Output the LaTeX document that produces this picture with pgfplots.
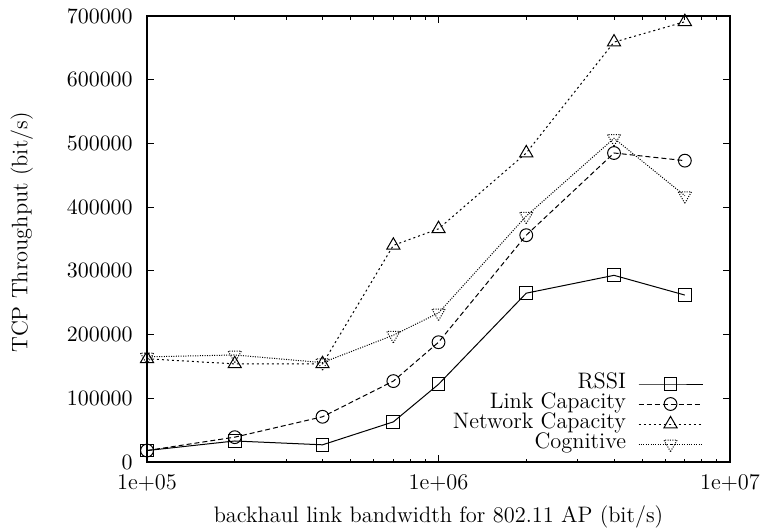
\documentclass[border=0pt]{standalone}
\usepackage{pgfplots}
\pgfplotsset{compat=1.18}
\begin{document}
\begin{tikzpicture}[font=\fontsize{11.2}{13}\selectfont]
\path (-73.5pt,-34.5pt) rectangle (308pt,231pt);
\begin{axis}[
  at={(0pt,0pt)}, anchor=south west,
  scale only axis, width=291.5pt, height=223pt,
  xmode=log, xmin=1e5, xmax=1e7,
  ymin=0, ymax=700000,
  xtick={1e5,1e6,1e7}, xticklabels={1e+05,1e+06,1e+07},
  ytick={0,100000,...,700000},
  scaled y ticks=false,
  yticklabel style={/pgf/number format/fixed,/pgf/number format/1000 sep={}, anchor=east, inner sep=0pt, xshift=-7pt},
  xticklabel style={anchor=base, inner sep=0pt, yshift=-13.5pt},
  tick align=inside, tick pos=both,
  major tick length=3.5pt, minor tick length=1.75pt,
  axis line style={line width=0.8pt},
  every tick/.style={line width=0.5pt, black},
  xlabel={backhaul link bandwidth for 802.11 AP (bit/s)},
  xlabel style={at={(axis description cs:0.5,0)}, anchor=base, inner sep=0pt, yshift=-30pt},
  ylabel={TCP Throughput (bit/s)},
  ylabel style={at={(axis description cs:-0.205,0.5146)}, anchor=base, inner sep=0pt, rotate=0},
  every axis plot/.append style={line width=0.5pt, black, mark options={solid, fill=none}},
  legend plot pos=right,
  legend cell align=right,
  legend style={draw=none, fill=none, inner sep=0pt, outer sep=0pt,
    at={(1,0)}, anchor=south east, xshift=-13.5pt, yshift=4pt,
    row sep=0pt, column sep=6pt,
    nodes={inner sep=0pt, text height=7pt, text depth=3pt}},
  legend image code/.code={\draw[#1,mark repeat=2,mark phase=2] plot coordinates {(0pt,0pt)(16pt,0pt)(32pt,0pt)};},
]
\addplot[solid, mark=square, mark size=3.2pt] coordinates {
(1e5,18000) (2e5,33000) (4e5,27000) (7e5,63000) (1e6,122000) (2e6,265000) (4e6,293000) (7e6,262000)};
\addlegendentry{RSSI}
\addplot[dash pattern=on 2.5pt off 1.5pt, mark=o, mark size=3.2pt] coordinates {
(1e5,18000) (2e5,39000) (4e5,71000) (7e5,127000) (1e6,188000) (2e6,356000) (4e6,485000) (7e6,473000)};
\addlegendentry{Link Capacity}
\addplot[dash pattern=on 1pt off 1.5pt, mark=triangle, mark size=3.8pt] coordinates {
(1e5,162000) (2e5,154000) (4e5,154000) (7e5,340000) (1e6,366000) (2e6,485000) (4e6,659000) (7e6,691000)};
\addlegendentry{Network Capacity}
\addplot[dash pattern=on 0.5pt off 0.7pt, mark=triangle, mark size=3.8pt, mark options={rotate=180}] coordinates {
(1e5,165000) (2e5,168000) (4e5,156000) (7e5,199000) (1e6,234000) (2e6,386000) (4e6,508000) (7e6,418000)};
\addlegendentry{Cognitive}
\end{axis}
\end{tikzpicture}
\end{document}
